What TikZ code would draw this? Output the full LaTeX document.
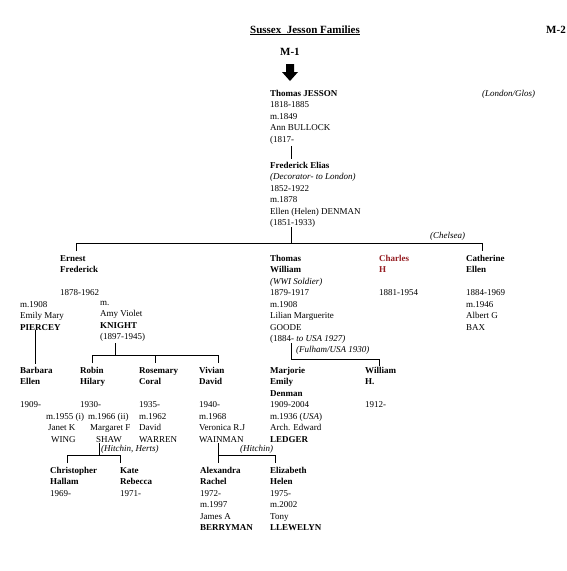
\documentclass[tikz,border=0pt]{standalone}
\usepackage{fontspec}
\setmainfont{Liberation Serif}
\definecolor{charlesred}{RGB}{150,30,35}
\begin{document}
\begin{tikzpicture}[x=1pt,y=-1pt,
 person/.style={anchor=north west,inner sep=0pt,align=left,font=\fontsize{9}{11.5}\selectfont},
 placelbl/.style={anchor=base west,inner sep=0pt,font=\fontsize{9}{11}\selectfont\itshape},
 link/.style={line width=0.9pt},
 heading/.style={inner sep=0pt,font=\fontsize{11}{13}\selectfont\bfseries}]
\useasboundingbox (0,0) rectangle (567,571);
\fill[white] (0,0) rectangle (567,571);

% headings
\node[heading,anchor=base] (title) at (305,33) {\underline{Sussex\ \ Jesson Families}};
\node[heading,anchor=base west] (mtwo) at (546,33) {M-2};
\node[heading,anchor=base west] (mone) at (280,55) {M-1};
\fill (286,64) -- (294,64) -- (294,72) -- (298,72) -- (290,81) -- (282,72) -- (286,72) -- cycle;

% generation 1
\node[person] (jesson) at (270,90) {\textbf{Thomas JESSON}\\1818-1885\\m.1849\\Ann BULLOCK\\(1817-};
\node[placelbl] (london) at (482,96) {(London/Glos)};
\node[person] (frederick) at (270,162) {\textbf{Frederick Elias}\\\textit{(Decorator- to London)}\\1852-1922\\m.1878\\Ellen (Helen) DENMAN\\(1851-1933)};
\node[placelbl] (chelsea) at (430,238) {(Chelsea)};

% generation 2
\node[person] (ernest) at (60,255) {\textbf{Ernest}\\\textbf{Frederick}\\\\1878-1962};
\node[person] (piercey) at (20,301) {m.1908\\Emily Mary\\\textbf{PIERCEY}};
\node[person] (knight) at (100,301) {m.\\Amy Violet\\\textbf{KNIGHT}\\(1897-1945)};
\node[person] (thomasw) at (270,255) {\textbf{Thomas}\\\textbf{William}\\\textit{(WWI Soldier)}\\1879-1917\\m.1908\\Lilian Marguerite\\GOODE\\(1884- \textit{to USA 1927)}};
\node[person] (charles) at (379,255) {\textbf{\color{charlesred}Charles}\\\textbf{\color{charlesred}H}\\\\1881-1954};
\node[person] (catherine) at (466,255) {\textbf{Catherine}\\\textbf{Ellen}\\\\1884-1969\\m.1946\\Albert G\\BAX};
\node[placelbl] (fulham) at (296,352) {(Fulham/USA 1930)};

% generation 3
\node[person] (barbara) at (20,367) {\textbf{Barbara}\\\textbf{Ellen}\\\\1909-};
\node[person] (robin) at (80,367) {\textbf{Robin}\\\textbf{Hilary}\\\\1930-};
\node[person] (wing) at (46,413) {m.1955 (i)\\\hspace{2pt}Janet K\\\hspace{5pt}WING};
\node[person] (shaw) at (88,413) {m.1966 (ii)\\\hspace{2pt}Margaret F\\\hspace{8pt}SHAW};
\node[person] (rosemary) at (139,367) {\textbf{Rosemary}\\\textbf{Coral}\\\\1935-\\m.1962\\David\\WARREN};
\node[person] (vivian) at (199,367) {\textbf{Vivian}\\\textbf{David}\\\\1940-\\m.1968\\Veronica R.J\\WAINMAN};
\node[person] (marjorie) at (270,367) {\textbf{Marjorie}\\\textbf{Emily}\\\textbf{Denman}\\1909-2004\\m.1936 (\textit{USA})\\Arch. Edward\\\textbf{LEDGER}};
\node[person] (william) at (365,367) {\textbf{William}\\\textbf{H.}\\\\1912-};
\node[placelbl] (herts) at (101,451) {(Hitchin, Herts)};
\node[placelbl] (hitchin) at (240,451) {(Hitchin)};

% generation 4
\node[person] (christopher) at (50,467) {\textbf{Christopher}\\\textbf{Hallam}\\1969-};
\node[person] (kate) at (120,467) {\textbf{Kate}\\\textbf{Rebecca}\\1971-};
\node[person] (alexandra) at (200,467) {\textbf{Alexandra}\\\textbf{Rachel}\\1972-\\m.1997\\James A\\\textbf{BERRYMAN}};
\node[person] (elizabeth) at (270,467) {\textbf{Elizabeth}\\\textbf{Helen}\\1975-\\m.2002\\Tony\\\textbf{LLEWELYN}};

% connector coordinates
\coordinate (j1) at (291,146); \coordinate (j2) at (291,159);
\coordinate (f1) at (291,227); \coordinate (f2) at (291,243);
\coordinate (bl) at (76,243); \coordinate (br) at (482,243);
\coordinate (blt) at (76,251); \coordinate (brt) at (482,251);
\coordinate (p1) at (35,330); \coordinate (p2) at (35,364);
\coordinate (k1) at (115,343); \coordinate (k2) at (115,355);
\coordinate (rl) at (92,355); \coordinate (rm) at (155,355); \coordinate (rr) at (218,355);
\coordinate (rlt) at (92,363); \coordinate (rmt) at (155,363); \coordinate (rrt) at (218,363);
\coordinate (t1) at (291,343); \coordinate (t2) at (291,359);
\coordinate (tr) at (379,359); \coordinate (trt) at (379,366);
\coordinate (s1) at (99,443); \coordinate (s2) at (99,455);
\coordinate (sl) at (67,455); \coordinate (sr) at (120,455);
\coordinate (slt) at (67,463); \coordinate (srt) at (120,463);
\coordinate (w1) at (218,443); \coordinate (w2) at (218,455); \coordinate (w3) at (218,463);
\coordinate (wr) at (275,455); \coordinate (wrt) at (275,463);

\draw[link] (j1) -- (j2);
\draw[link] (f1) -- (f2);
\draw[link] (blt) -- (bl) -- (br) -- (brt);
\draw[link] (p1) -- (p2);
\draw[link] (k1) -- (k2);
\draw[link] (rlt) -- (rl) -- (rr) -- (rrt);
\draw[link] (rm) -- (rmt);
\draw[link] (t1) -- (t2) -- (tr) -- (trt);
\draw[link] (s1) -- (s2);
\draw[link] (slt) -- (sl) -- (sr) -- (srt);
\draw[link] (w1) -- (w3);
\draw[link] (w2) -- (wr) -- (wrt);
\end{tikzpicture}
\end{document}
